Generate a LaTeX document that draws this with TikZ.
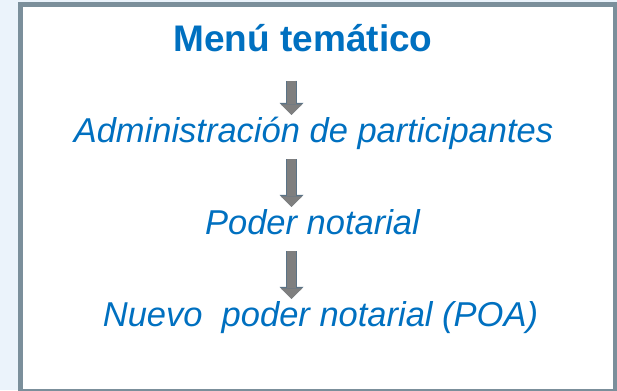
\documentclass[tikz,border=0pt]{standalone}
\usepackage{fontspec}
\setmainfont{Liberation Sans}
\usetikzlibrary{positioning,calc,arrows.meta}
\definecolor{azultexto}{HTML}{0070C0}
\definecolor{marco}{HTML}{7B8F9B}
\definecolor{fondo}{HTML}{EBF3FB}
\definecolor{grisflecha}{HTML}{7F7F7F}
\definecolor{bordeflecha}{HTML}{5B7386}
\tikzset{titulo/.style={inner sep=0pt,anchor=base,text=azultexto,font=\fontsize{37}{40}\selectfont\bfseries}}
\tikzset{paso/.style={inner sep=0pt,anchor=base,text=azultexto,text height=28pt,text depth=16pt,font=\fontsize{34.5}{40}\selectfont\itshape}}
\tikzset{flecha/.style={grisflecha,line width=9.5pt,-{Triangle[width=21.5pt,length=10.5pt,line width=0pt]},
  preaction={draw=bordeflecha,line width=11pt,-{Triangle[width=24pt,length=12pt,line width=0pt]}}}}

\begin{document}
\begin{tikzpicture}[x=1pt,y=1pt]
	\useasboundingbox (0,0) rectangle (617,390);
	\fill[fondo] (0,0) rectangle (617,390);
	\draw[marco,line width=5pt,fill=white] (20.5,-1) rectangle (615,385.5);
	\node[titulo] (menu) at (303,338) {Menú temático};
	\node[paso] (admin) at (313.5,247) {Administración de participantes};
	\node[paso] (poder) at (312.5,155) {Poder notarial};
	\node[paso] (nuevo) at (320.5,63) {Nuevo\ \ poder notarial (POA)};
	\coordinate (eje) at (291.5,0);
	\draw[flecha] ($(menu.south -| eje)+(0,-28)$) -- (admin.north -| eje);
	\draw[flecha] (admin.south -| eje) -- (poder.north -| eje);
	\draw[flecha] (poder.south -| eje) -- (nuevo.north -| eje);
\end{tikzpicture}
\end{document}
